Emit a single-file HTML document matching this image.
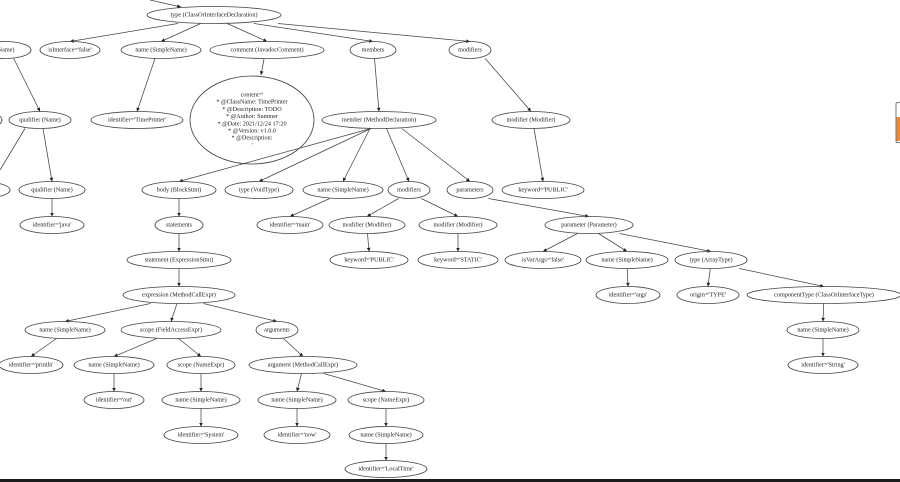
<!DOCTYPE html>
<html><head><meta charset="utf-8"><style>
html,body{margin:0;padding:0;background:#fff;width:900px;height:482px;overflow:hidden}
svg{display:block}
text{font-family:"Liberation Serif",serif;font-size:6.2px;fill:#222;text-anchor:middle;dominant-baseline:central}
ellipse{fill:none;stroke:#444;stroke-width:0.85}
line{stroke:#444;stroke-width:0.75}
</style></head><body>
<svg id="g" width="900" height="482" viewBox="0 0 900 482" xmlns="http://www.w3.org/2000/svg">
<defs><marker id="a" viewBox="0 0 10 10" refX="10" refY="5" markerWidth="5" markerHeight="5" orient="auto"><path d="M0,0L10,5L0,10z" fill="#222"/></marker></defs>
<rect x="0" y="479" width="900" height="3" fill="#1a1a1a"/>
<rect x="896" y="102.5" width="5" height="40" rx="1.5" fill="#fff" stroke="#777"/>
<rect x="896.5" y="117" width="4" height="24" fill="#e8893a"/>
<line x1="150" y1="0" x2="181" y2="7" marker-end="url(#a)"/>
</svg>
<script>
var N={
root:[214,15,67,"type (ClassOrInterfaceDeclaration)"],
pn:[5,50,26,"(Name)"],
isi:[70,50,30,"isInterface='false'"],
nm1:[161,50,40,"name (SimpleName)"],
cm:[267,50,57,"comment (JavadocComment)"],
mem:[373,50,23,"members"],
mods:[470,50,21,"modifiers"],
q1:[40,120,31,"qualifier (Name)"],
pl:[-18,120,20,""],
id1:[137,120,46,"identifier='TimePrinter'"],
md:[379,120,57,"member (MethodDeclaration)"],
mod1:[531,120,39,"modifier (Modifier)"],
pl2:[-20,190,30,""],
q2:[52,190,33,"qualifier (Name)"],
body:[179,190,37,"body (BlockStmt)"],
vt:[259,190,34,"type (VoidType)"],
nm2:[343,190,40,"name (SimpleName)"],
mods2:[409,190,21,"modifiers"],
pars:[470,190,23,"parameters"],
kw1:[543,190,41,"keyword='PUBLIC'"],
idj:[52,225,32,"identifier='java'"],
sts:[179,225,24,"statements"],
idm:[290,225,33,"identifier='main'"],
mo2:[367,225,38,"modifier (Modifier)"],
mo3:[458,225,39,"modifier (Modifier)"],
par:[589,225,44,"parameter (Parameter)"],
st:[179,260,52,"statement (ExpressionStmt)"],
kw2:[369,260,39,"keyword='PUBLIC'"],
kw3:[458,260,40,"keyword='STATIC'"],
iva:[543,260,38,"isVarArgs='false'"],
nm3:[627,260,41,"name (SimpleName)"],
at:[711,260,36,"type (ArrayType)"],
ex:[179,295,56,"expression (MethodCallExpr)"],
ida:[628,295,32,"identifier='args'"],
org:[708,295,31,"origin='TYPE'"],
ct:[824,295,77,"componentType (ClassOrInterfaceType)"],
nm4:[65,330,40,"name (SimpleName)"],
fa:[171,330,50,"scope (FieldAccessExpr)"],
args:[277,330,21,"arguments"],
nm5:[823,330,36,"name (SimpleName)"],
idp:[31,365,32,"identifier='println'"],
nm6:[114,365,40,"name (SimpleName)"],
ne1:[201,365,34,"scope (NameExpr)"],
arg:[303,365,54,"argument (MethodCallExpr)"],
ids:[823,365,35,"identifier='String'"],
ido:[114,400,30,"identifier='out'"],
nm7:[201,400,39,"name (SimpleName)"],
nm8:[297,400,39,"name (SimpleName)"],
ne2:[386,400,38,"scope (NameExpr)"],
idsy:[201,435,37,"identifier='System'"],
idn:[297,435,33,"identifier='now'"],
nm9:[386,435,37,"name (SimpleName)"],
idl:[386,469,41,"identifier='LocalTime'"]};
var E=[["root","isi"],["root","nm1"],["root","cm"],["root","mem"],["root","mods"],["pn","q1"],["nm1","id1"],["mem","md"],["mods","mod1"],["q1","pl2"],["q1","q2"],["q2","idj"],["md","body"],["md","vt"],["md","nm2"],["md","mods2"],["md","pars"],["mod1","kw1"],["body","sts"],["nm2","idm"],["mods2","mo2"],["mods2","mo3"],["pars","par"],["sts","st"],["mo2","kw2"],["mo3","kw3"],["par","iva"],["par","nm3"],["par","at"],["st","ex"],["nm3","ida"],["at","org"],["at","ct"],["ex","nm4"],["ex","fa"],["ex","args"],["ct","nm5"],["nm4","idp"],["fa","nm6"],["fa","ne1"],["args","arg"],["nm5","ids"],["nm6","ido"],["ne1","nm7"],["arg","nm8"],["arg","ne2"],["nm7","idsy"],["nm8","idn"],["ne2","nm9"],["nm9","idl"]];
var s=document.getElementById("g"),ns="http://www.w3.org/2000/svg",RY=8.5;
function el(t,a,txt){var e=document.createElementNS(ns,t);for(var k in a)e.setAttribute(k,a[k]);if(txt)e.textContent=txt;s.appendChild(e);return e;}
E.forEach(function(e){var a=N[e[0]],b=N[e[1]];var y1=a[1]+RY,y2=b[1]-RY;
var x1=a[0]+(b[0]-a[0])*0.25;if(Math.abs(x1-a[0])>a[2]*0.8)x1=a[0]+Math.sign(b[0]-a[0])*a[2]*0.8;
if(e[0]=="root"){x1=a[0]+(b[0]-a[0])*0.25;}
if(e[0]=="md"&&(e[1]=="body"||e[1]=="vt"))x1=a[0]-8;
var x2=b[0];if(e[1]=="pl2"){x2=0;y2=170}
el("line",{x1:x1,y1:y1,x2:x2,y2:y2,"marker-end":e[1]=="pl2"?"":"url(#a)"});});
for(var k in N){var n=N[k];el("ellipse",{cx:n[0],cy:n[1],rx:n[2],ry:RY});if(n[3])el("text",{x:n[0],y:n[1]},n[3]);}
el("line",{x1:264,y1:59,x2:261,y2:75,"marker-end":"url(#a)"});
el("ellipse",{cx:252,cy:120,rx:62,ry:44});
["content='","* @ClassName: TimePrinter","* @Description: TODO","* @Author: Summer","* @Date: 2021/12/24 17:20","* @Version: v1.0.0","* @Description:","'"].forEach(function(t,i){el("text",{x:252,y:95+i*7.2},t);});
</script>
</body></html>
